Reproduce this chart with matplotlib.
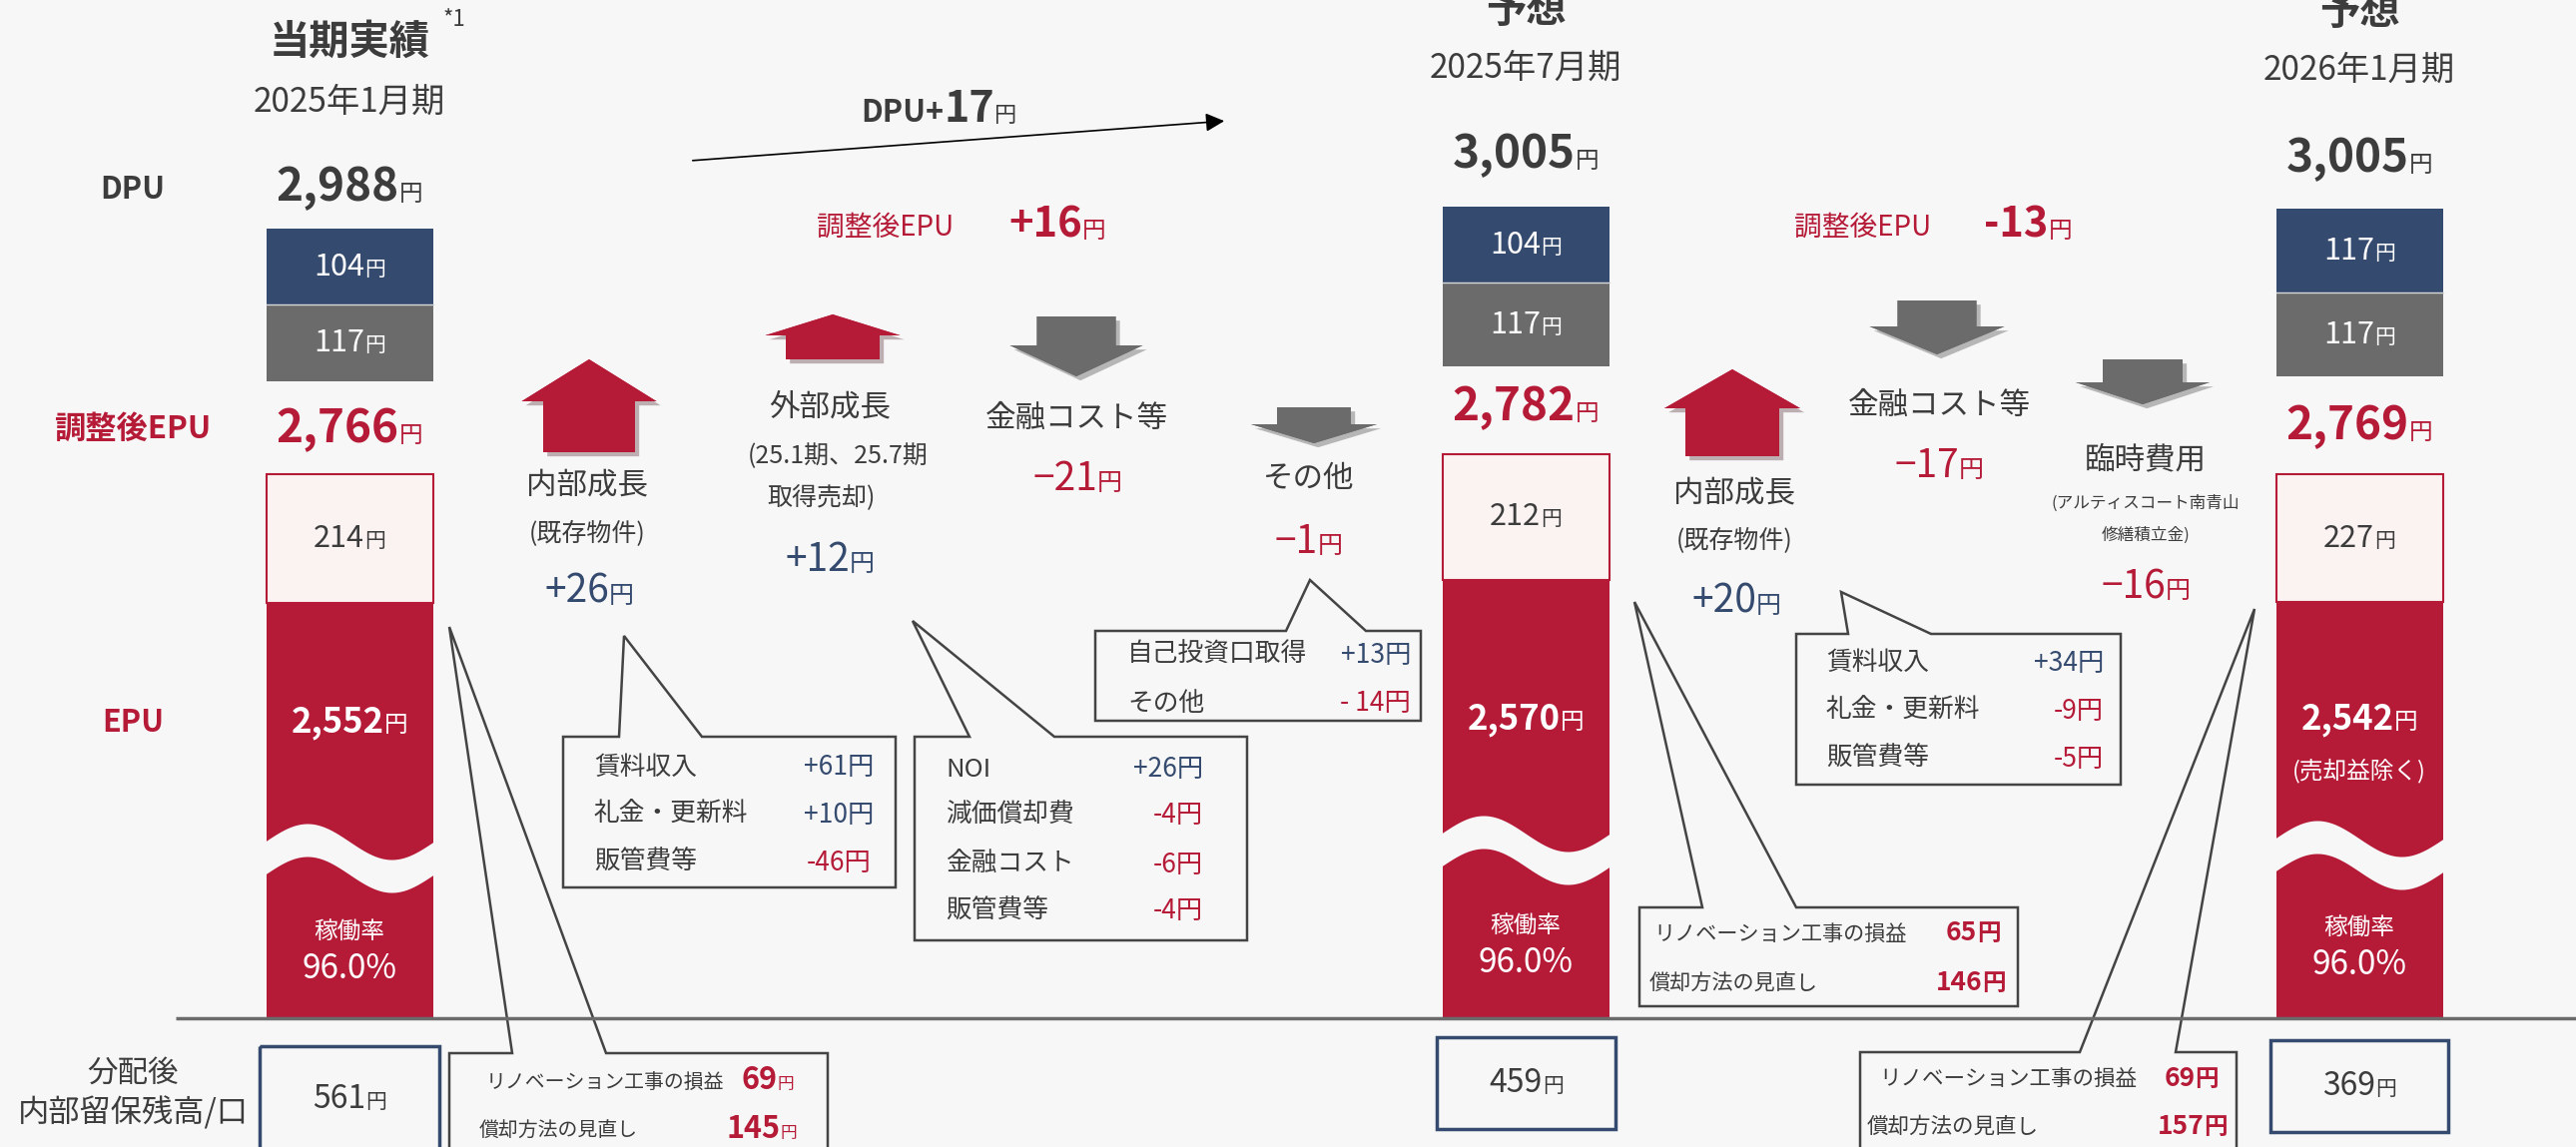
import matplotlib
matplotlib.use('Agg')
import numpy as np
import matplotlib.pyplot as plt
from matplotlib.patches import Polygon, Rectangle
from matplotlib.offsetbox import TextArea, HPacker, AnnotationBbox
import matplotlib.patheffects as pe

FONT = ['Noto Sans CJK JP', 'DejaVu Sans']
plt.rcParams['font.family'] = FONT

# データ
titles = ['当期実績', '予想', '予想']
periods = ['2025年1月期', '2025年7月期', '2026年1月期']
dpu = [2988, 3005, 3005]
seg_navy = [104, 104, 117]
seg_gray = [117, 117, 117]
adj_epu = [2766, 2782, 2769]
seg_pink = [214, 212, 227]
epu = [2552, 2570, 2542]
occupancy = [96.0, 96.0, 96.0]
retained = [561, 459, 369]

dpu_change = 17
adj_epu_change = [16, -13]

bridge1_labels = ['内部成長', '外部成長', '金融コスト等', 'その他']
bridge1_values = [26, 12, -21, -1]
bridge2_labels = ['内部成長', '金融コスト等', '臨時費用']
bridge2_values = [20, -17, -16]

int1_labels = ['賃料収入', '礼金・更新料', '販管費等']
int1_values = [61, 10, -46]
ext_labels = ['NOI', '減価償却費', '金融コスト', '販管費等']
ext_values = [26, -4, -6, -4]
other_labels = ['自己投資口取得', 'その他']
other_values = [13, -14]
int2_labels = ['賃料収入', '礼金・更新料', '販管費等']
int2_values = [34, -9, -5]
reno_labels = ['リノベーション工事の損益', '償却方法の見直し']
reno_values = [[69, 145], [65, 146], [69, 157]]

# 色
BG = '#f7f7f7'
NAVY = '#344a6e'
GRAY = '#6b6b6b'
RED = '#b51a37'
PINK = '#fbf2f2'
TXT = '#3c3c3c'

fig = plt.figure(figsize=(25.8, 11.49), dpi=100)
fig.patch.set_facecolor(BG)
ax = fig.add_axes([0, 0, 1, 1])
ax.set_xlim(0, 2580)
ax.set_ylim(1149, 0)
ax.axis('off')
ax.set_facecolor(BG)


def rich(x, y, parts, color=TXT, align=(0.5, 0.5), z=6):
    kids = []
    for t, s, w in parts:
        kids.append(TextArea(t, textprops=dict(size=s, color=color, weight=w, family=FONT)))
    pk = HPacker(children=kids, align='baseline', pad=0, sep=0)
    ab = AnnotationBbox(pk, (x, y), xycoords='data', frameon=False,
                        box_alignment=align, pad=0, zorder=z)
    ax.add_artist(ab)


def yen(x, y, num, size, color=TXT, weight='normal', ysize=None, align=(0.5, 0.5), yw='normal'):
    rich(x, y, [(num, size, weight), ('円', ysize or size * 0.62, yw)], color, align)


def sgn(v):
    return '+%d' % v if v > 0 else '-%d' % abs(v)


def msgn(v):
    return '+%d' % v if v > 0 else '\u2212%d' % abs(v)


# バー配置
bar_x = [350, 1528, 2363]
bar_w = 167
navy_top = [229, 207, 209]
gray_top = [305, 283, 293]
gray_bot = [382, 367, 377]
pink_top = [475, 455, 475]
red_top = [604, 581, 603]
base_y = 1020
wave_c = [843, 835, 840]

title_y = [42, 11, 12]
period_y = [102, 68, 70]
dpu_y = [188, 155, 159]
adj_y = [430, 408, 427]
epu_y = [723, 720, 720]
occ_y = [934, 928, 930]
ret_box = [(260, 440, 1048, 1160), (1439, 1618, 1039, 1131), (2274, 2452, 1042, 1134)]

# ベースライン
ax.plot([176, 2580], [base_y, base_y], color=GRAY, lw=2.5, zorder=7, solid_capstyle='butt')

for i in range(3):
    cx = bar_x[i]
    ax.bar(cx, gray_top[i] - navy_top[i], bottom=navy_top[i], width=bar_w, color=NAVY, zorder=2)
    ax.bar(cx, gray_bot[i] - gray_top[i], bottom=gray_top[i], width=bar_w, color=GRAY, zorder=2)
    ax.plot([cx - bar_w / 2, cx + bar_w / 2], [gray_top[i]] * 2, color='#d8d8d8', lw=1, zorder=3)
    ax.bar(cx, red_top[i] - pink_top[i], bottom=pink_top[i], width=bar_w, color=PINK,
           edgecolor=RED, linewidth=1.5, zorder=2)
    ax.bar(cx, base_y - red_top[i], bottom=red_top[i], width=bar_w, color=RED, zorder=2)
    # 波線
    xs = np.linspace(cx - bar_w / 2 - 1, cx + bar_w / 2 + 1, 200)
    t = (xs - xs[0]) / (xs[-1] - xs[0])
    up = wave_c[i] - 18 * np.sin(2 * np.pi * t)
    ax.fill_between(xs, up, up + 33, color=BG, zorder=3, lw=0)

    # タイトル
    ax.text(cx, title_y[i], titles[i], ha='center', va='center', size=29, weight='bold', color=TXT)
    ax.text(cx, period_y[i], periods[i], ha='center', va='center', size=24, color=TXT)
    yen(cx, dpu_y[i], f'{dpu[i]:,}', 33, TXT, 'bold', 17)
    yen(cx, (navy_top[i] + gray_top[i]) / 2, str(seg_navy[i]), 22, 'white', ysize=15)
    yen(cx, (gray_top[i] + gray_bot[i]) / 2, str(seg_gray[i]), 22, 'white', ysize=15)
    yen(cx, adj_y[i], f'{adj_epu[i]:,}', 33, RED, 'bold', 17)
    yen(cx, (pink_top[i] + red_top[i]) / 2, str(seg_pink[i]), 22, TXT, ysize=15)
    yen(cx, epu_y[i], f'{epu[i]:,}', 25, 'white', 'bold', 17)
    ax.text(cx, occ_y[i], '稼働率', ha='center', va='center', size=17, color='white', zorder=6)
    ax.text(cx, occ_y[i] + 36, f'{occupancy[i]:.1f}%', ha='center', va='center', size=24,
            color='white', zorder=6)
    x0, x1, y0, y1 = ret_box[i]
    ax.add_patch(Rectangle((x0, y0), x1 - x0, y1 - y0, fc='none', ec=NAVY, lw=2.5, zorder=5))
    yen((x0 + x1) / 2, (y0 + min(y1, 1149)) / 2 + (3 if i == 0 else 0), str(retained[i]), 23, TXT, ysize=15)

ax.text(cx, 772, '(売却益除く)', ha='center', va='center', size=17, color='white', zorder=6)
ax.text(444, 19, '*1', ha='left', va='center', size=16, color=TXT)

# 左ラベル
ax.text(133, 190, 'DPU', ha='center', va='center', size=22, weight='bold', color=TXT)
ax.text(133, 430, '調整後EPU', ha='center', va='center', size=22.5, weight='bold', color=RED)
ax.text(133, 724, 'EPU', ha='center', va='center', size=22, weight='bold', color=RED)
ax.text(133, 1075, '分配後', ha='center', va='center', size=22, color=TXT)
ax.text(133, 1115, '内部留保残高/口', ha='center', va='center', size=22.5, color=TXT)

# DPU矢印
ax.annotate('', xy=(1229, 121), xytext=(691, 161),
            arrowprops=dict(arrowstyle='-|>', color='black', lw=1.2, mutation_scale=28))
rich(862, 109, [('DPU+', 22, 'bold'), (str(dpu_change), 31, 'bold'), ('円', 16, 'normal')], TXT, (0, 0.5))

rich(818, 228, [('調整後EPU', 20, 'normal')], RED, (0, 0.5))
rich(1010, 226, [(sgn(adj_epu_change[0]), 30, 'bold'), ('円', 17, 'normal')], RED, (0, 0.5))
rich(1797, 228, [('調整後EPU', 20, 'normal')], RED, (0, 0.5))
rich(1987, 226, [(sgn(adj_epu_change[1]), 30, 'bold'), ('円', 17, 'normal')], RED, (0, 0.5))


# ブロック矢印
def block_arrow(cx, y_tip, y_end, head_w, shaft_w, head_len, color):
    d = 1 if y_end > y_tip else -1
    yh = y_tip + d * head_len
    v = [(cx, y_tip), (cx + head_w / 2, yh), (cx + shaft_w / 2, yh), (cx + shaft_w / 2, y_end),
         (cx - shaft_w / 2, y_end), (cx - shaft_w / 2, yh), (cx - head_w / 2, yh)]
    ax.add_patch(Polygon(v, closed=True, fc=color, ec='none', zorder=4,
                         path_effects=[pe.withSimplePatchShadow(offset=(3, -3), alpha=0.3),
                                       pe.Normal()]))


block_arrow(590, 360, 453, 135, 92, 42, RED)
block_arrow(834, 315, 360, 135, 94, 21, RED)
block_arrow(1078, 377, 317, 133, 79, 31, GRAY)
block_arrow(1316, 444, 408, 126, 74, 19, GRAY)
block_arrow(1735, 370, 457, 136, 94, 39, RED)
block_arrow(1940, 355, 301, 135, 79, 28, GRAY)
block_arrow(2146, 405, 360, 134, 80, 22, GRAY)


# ブリッジのラベル
def bridge_val(x, y, v):
    col = NAVY if v > 0 else RED
    yen(x, y, msgn(v), 28, col, ysize=18)


ax.text(588, 486, bridge1_labels[0], ha='center', va='center', size=22, color=TXT)
ax.text(588, 535, '(既存物件)', ha='center', va='center', size=18, color=TXT)
bridge_val(590, 593, bridge1_values[0])

ax.text(831, 408, bridge1_labels[1], ha='center', va='center', size=22, color=TXT)
ax.text(839, 457, '(25.1期、25.7期', ha='center', va='center', size=18, color=TXT)
ax.text(823, 499, '取得売却)', ha='center', va='center', size=18, color=TXT)
bridge_val(831, 561, bridge1_values[1])

ax.text(1078, 419, bridge1_labels[2], ha='center', va='center', size=22, color=TXT)
bridge_val(1079, 480, bridge1_values[2])

ax.text(1311, 480, bridge1_labels[3], ha='center', va='center', size=22, color=TXT)
bridge_val(1311, 543, bridge1_values[3])

ax.text(1737, 494, bridge2_labels[0], ha='center', va='center', size=22, color=TXT)
ax.text(1737, 542, '(既存物件)', ha='center', va='center', size=18, color=TXT)
bridge_val(1739, 603, bridge2_values[0])

ax.text(1942, 406, bridge2_labels[1], ha='center', va='center', size=22, color=TXT)
bridge_val(1942, 467, bridge2_values[1])

ax.text(2149, 461, bridge2_labels[2], ha='center', va='center', size=22, color=TXT)
ax.text(2149, 504, '(アルティスコート南青山', ha='center', va='center', size=12, color=TXT)
ax.text(2149, 536, '修繕積立金)', ha='center', va='center', size=12, color=TXT)
bridge_val(2149, 588, bridge2_values[2])


# 吹き出し
def callout(x0, x1, y0, y1, bl, tip, br):
    v = [(x0, y0), (bl, y0), tip, (br, y0), (x1, y0), (x1, y1), (x0, y1)]
    ax.add_patch(Polygon(v, closed=True, fc=BG, ec='#444444', lw=1.8, zorder=5, joinstyle='miter'))


CS = 18.5
VS = 19
callout(564, 897, 738, 889, 620, (625, 637), 703)
for lab, v, y in zip(int1_labels, int1_values, [769, 816, 864]):
    ax.text(595, y, lab, ha='left', va='center', size=CS, color=TXT, zorder=6)
    ax.text(840, y, sgn(v) + '円', ha='center', va='center', size=VS,
            color=NAVY if v > 0 else RED, zorder=6)

callout(916, 1249, 738, 942, 971, (914, 622), 1056)
for lab, v, y in zip(ext_labels, ext_values, [771, 817, 866, 913]):
    ax.text(947, y, lab, ha='left', va='center', size=CS, color=TXT, zorder=6)
    ax.text(1205, y, sgn(v) + '円', ha='right', va='center', size=VS,
            color=NAVY if v > 0 else RED, zorder=6)

callout(1097, 1423, 632, 722, 1288, (1312, 581), 1368)
for lab, v, y in zip(other_labels, other_values, [656, 705]):
    ax.text(1129, y, lab, ha='left', va='center', size=CS, color=TXT, zorder=6)
    s = '+%d円' % v if v > 0 else '- %d円' % abs(v)
    ax.text(1413, y, s, ha='right', va='center', size=VS,
            color=NAVY if v > 0 else RED, zorder=6)

callout(1799, 2124, 635, 786, 1851, (1844, 593), 1934)
for lab, v, y in zip(int2_labels, int2_values, [664, 712, 760]):
    ax.text(1829, y, lab, ha='left', va='center', size=CS, color=TXT, zorder=6)
    ax.text(2107, y, sgn(v) + '円', ha='right', va='center', size=VS,
            color=NAVY if v > 0 else RED, zorder=6)

# リノベーション
callout(450, 829, 1055, 1165, 513, (450, 628), 607)
ax.text(487, 1084, reno_labels[0], ha='left', va='center', size=14.3, color=TXT, zorder=6)
ax.text(480, 1133, reno_labels[1], ha='left', va='center', size=14.3, color=TXT, zorder=6)
yen(795, 1082, str(reno_values[0][0]), 22, RED, 'bold', 12, align=(1, 0.5))
yen(798, 1131, str(reno_values[0][1]), 22, RED, 'bold', 12, align=(1, 0.5))

callout(1642, 2021, 909, 1008, 1705, (1637, 603), 1799)
ax.text(1656, 936, reno_labels[0], ha='left', va='center', size=15.2, color=TXT, zorder=6)
ax.text(1652, 985, reno_labels[1], ha='left', va='center', size=15.2, color=TXT, zorder=6)
yen(2004, 935, str(reno_values[1][0]), 19, RED, 'bold', 17, align=(1, 0.5), yw='bold')
yen(2009, 984, str(reno_values[1][1]), 19, RED, 'bold', 17, align=(1, 0.5), yw='bold')

callout(1863, 2240, 1054, 1165, 2083, (2258, 610), 2179)
ax.text(1882, 1081, reno_labels[0], ha='left', va='center', size=15.5, color=TXT, zorder=6)
ax.text(1870, 1129, reno_labels[1], ha='left', va='center', size=15.5, color=TXT, zorder=6)
yen(2222, 1080, str(reno_values[2][0]), 19, RED, 'bold', 17, align=(1, 0.5), yw='bold')
yen(2231, 1128, str(reno_values[2][1]), 19, RED, 'bold', 17, align=(1, 0.5), yw='bold')

fig.savefig('out.png', dpi=100, facecolor=BG)
